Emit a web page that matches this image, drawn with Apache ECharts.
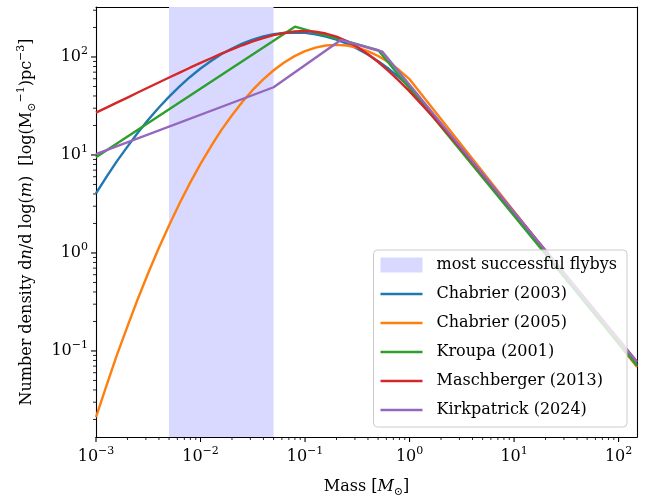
<!DOCTYPE html>
<html>
<head>
<meta charset="utf-8">
<script src="https://cdn.jsdelivr.net/npm/echarts@6/dist/echarts.min.js"></script>
<style>
  html, body { margin: 0; padding: 0; background: #fff; }
  #chart { width: 647px; height: 495px; }
</style>
</head>
<body>
<div id="chart"></div>
<script>
// masses in solar masses (log-log)
const smoothMass = [0.001, 0.00126, 0.00158, 0.002, 0.00251, 0.00316, 0.00398, 0.00501, 0.00631, 0.00794,
  0.01, 0.0126, 0.0158, 0.02, 0.0251, 0.0316, 0.0398, 0.0501, 0.0631, 0.0794,
  0.1, 0.126, 0.158, 0.2, 0.251, 0.316, 0.398, 0.501, 0.631, 0.794, 1];
const chabrierMass = [...smoothMass, 150];
const chabrier2003 = [4.05, 5.97, 8.61, 12.17, 16.85, 22.84, 30.3, 39.4, 50.1, 62.5,
  76.2, 91.1, 106.6, 122.1, 137.0, 150.6, 162.0, 170.7, 176.1, 177.8,
  176.0, 170.4, 161.6, 150.1, 136.5, 121.5, 106.0, 90.5, 75.7, 62.0, 49.7, 0.0737];
const chabrier2005 = [0.0211, 0.0443, 0.0902, 0.178, 0.339, 0.625, 1.115, 1.92, 3.21, 5.19,
  8.11, 12.27, 17.94, 25.4, 34.8, 46.1, 59.1, 73.2, 87.9, 102.0,
  114.6, 124.5, 130.8, 133.0, 130.9, 124.6, 114.8, 102.3, 88.2, 73.5, 59.3, 0.0685];
const maschMass = [...smoothMass, 1.78, 3.16, 10, 150];
const maschberger2013 = [27.0, 30.4, 34.2, 38.5, 43.4, 48.8, 54.9, 61.7, 69.3, 77.7,
  86.9, 97.1, 108, 119.6, 131.7, 144.1, 156.1, 166.9, 175.8, 181.8,
  183.8, 181.1, 173.4, 161.0, 145.0, 126.6, 107.4, 88.8, 71.8, 56.9, 44.5, 22.9, 11.3, 2.6, 0.0777];
const kroupaMass = [0.001, 0.08, 0.5, 150];
const kroupa2001 = [9.5, 204, 117.5, 0.0708];
const kirkMass = [0.001, 0.05, 0.22, 0.55, 150];
const kirkpatrick2024 = [10.2, 49.1, 149, 113, 0.0773];
const flybyRange = [0.005, 0.05];

const X_MIN = 0.001, X_MAX = 150, Y_MIN = 0.01324, Y_MAX = 323.6;
const xMajor = [0.001, 0.01, 0.1, 1, 10, 100];
const yMajor = [0.1, 1, 10, 100];
const xMinor = [];
for (let e = -3; e <= 2; e++) for (let k = 2; k <= 9; k++) { const v = +(k * Math.pow(10, e)).toPrecision(3); if (v <= X_MAX) xMinor.push(v); }
const yMinor = [];
for (let e = -2; e <= 2; e++) for (let k = 2; k <= 9; k++) { const v = +(k * Math.pow(10, e)).toPrecision(3); if (v >= Y_MIN && v <= Y_MAX) yMinor.push(v); }

const FONT = "DejaVu Serif";
const rich = {
  t: { fontFamily: FONT, fontSize: 16, lineHeight: 22, color: "#000" },
  i: { fontFamily: FONT, fontSize: 16, lineHeight: 22, fontStyle: "italic", color: "#000" },
  sup: { fontFamily: FONT, fontSize: 11, lineHeight: 15, verticalAlign: "top", color: "#000" },
  sub: { fontFamily: FONT, fontSize: 11, lineHeight: 12, verticalAlign: "bottom", color: "#000" },
};
const powLabel = (v) => {
  const e = Math.round(Math.log10(v));
  return "{t|10}{sup|" + (e < 0 ? "\u2212" + -e : e) + "}";
};
const pairs = (xs, ys) => xs.map((x, i) => [x, ys[i]]);

// outward tick marks placed through the axes' own log scales
function tickSeries(values, dir, len, width) {
  return {
    type: "custom", silent: true, clip: false, z: 10,
    data: values.map((v) => (dir === "x" ? [v, Y_MIN] : [X_MIN, v])),
    renderItem: (params, api) => {
      const p = api.coord([api.value(0), api.value(1)]);
      const shape = dir === "x"
        ? { x1: p[0], y1: p[1], x2: p[0], y2: p[1] + len }
        : { x1: p[0] - len, y1: p[1], x2: p[0], y2: p[1] };
      return { type: "line", shape, style: { stroke: "#000", lineWidth: width } };
    },
  };
}

const xRange = { type: "log", logBase: 10, min: X_MIN, max: X_MAX };
const yRange = { type: "log", logBase: 10, min: Y_MIN, max: Y_MAX };
const frame = { show: true, onZero: false, lineStyle: { color: "#000", width: 1.1 } };
const lineIcon = "path://M0,0H40V2.4H0Z";

const chart = echarts.init(document.getElementById("chart"));
chart.setOption({
  animation: false,
  grid: { left: 96, right: 10, top: 7, bottom: 58, outerBoundsMode: "none" },
  xAxis: [
    {
      ...xRange, position: "bottom",
      axisLine: frame, splitLine: { show: false }, axisTick: { show: false },
      axisLabel: { margin: 9, formatter: powLabel, rich, customValues: xMajor },
      name: "{t|Mass [}{i|M}{sub|\u2299}{t|]}",
      nameLocation: "middle", nameGap: 39,
      nameTextStyle: { rich },
    },
    {
      ...xRange, position: "top",
      axisLine: frame, axisTick: { show: false }, axisLabel: { show: false }, splitLine: { show: false },
    },
  ],
  yAxis: [
    {
      ...yRange, position: "left",
      axisLine: frame, splitLine: { show: false }, axisTick: { show: false },
      axisLabel: { margin: 8, formatter: powLabel, rich, customValues: yMajor },
      name: "{t|Number density d}{i|n}{t|/d log(}{i|m}{t|)  [log(M}{sub|\u2299}{sup|\u22121}{t|)pc}{sup|\u22123}{t|]}",
      nameLocation: "middle", nameGap: 58, nameRotate: 90,
      nameTextStyle: { rich },
    },
    {
      ...yRange, position: "right",
      axisLine: frame, axisTick: { show: false }, axisLabel: { show: false }, splitLine: { show: false },
    },
  ],
  legend: {
    orient: "vertical",
    right: 20, top: 250,
    padding: [7, 10, 9, 7],
    itemWidth: 42, itemHeight: 15, itemGap: 13,
    backgroundColor: "rgba(255,255,255,0.8)",
    borderColor: "#cccccc", borderWidth: 1, borderRadius: 4,
    textStyle: { fontFamily: FONT, fontSize: 16, lineHeight: 15, color: "#000", padding: [0, 0, 0, 9] },
    data: [
      { name: "most successful flybys", icon: "rect" },
      { name: "Chabrier (2003)", icon: lineIcon },
      { name: "Chabrier (2005)", icon: lineIcon },
      { name: "Kroupa (2001)", icon: lineIcon },
      { name: "Maschberger (2013)", icon: lineIcon },
      { name: "Kirkpatrick (2024)", icon: lineIcon },
    ],
  },
  series: [
    {
      name: "most successful flybys", type: "line", data: [], symbol: "none",
      itemStyle: { color: "#d9d9ff" }, lineStyle: { color: "#d9d9ff" },
      markArea: {
        silent: true,
        itemStyle: { color: "#d9d9ff" },
        data: [[{ xAxis: flybyRange[0] }, { xAxis: flybyRange[1] }]],
      },
    },
    { name: "Chabrier (2003)", type: "line", symbol: "none", itemStyle: { color: "#1f77b4" }, lineStyle: { width: 2.4, color: "#1f77b4" }, data: pairs(chabrierMass, chabrier2003) },
    { name: "Chabrier (2005)", type: "line", symbol: "none", itemStyle: { color: "#ff7f0e" }, lineStyle: { width: 2.4, color: "#ff7f0e" }, data: pairs(chabrierMass, chabrier2005) },
    { name: "Kroupa (2001)", type: "line", symbol: "none", itemStyle: { color: "#2ca02c" }, lineStyle: { width: 2.4, color: "#2ca02c" }, data: pairs(kroupaMass, kroupa2001) },
    { name: "Maschberger (2013)", type: "line", symbol: "none", itemStyle: { color: "#d62728" }, lineStyle: { width: 2.4, color: "#d62728" }, data: pairs(maschMass, maschberger2013) },
    { name: "Kirkpatrick (2024)", type: "line", symbol: "none", itemStyle: { color: "#9467bd" }, lineStyle: { width: 2.4, color: "#9467bd" }, data: pairs(kirkMass, kirkpatrick2024) },
    tickSeries(xMajor, "x", 5, 1.1),
    tickSeries(xMinor, "x", 3, 0.85),
    tickSeries(yMajor, "y", 5, 1.1),
    tickSeries(yMinor, "y", 3, 0.85),
  ],
});
</script>
</body>
</html>
